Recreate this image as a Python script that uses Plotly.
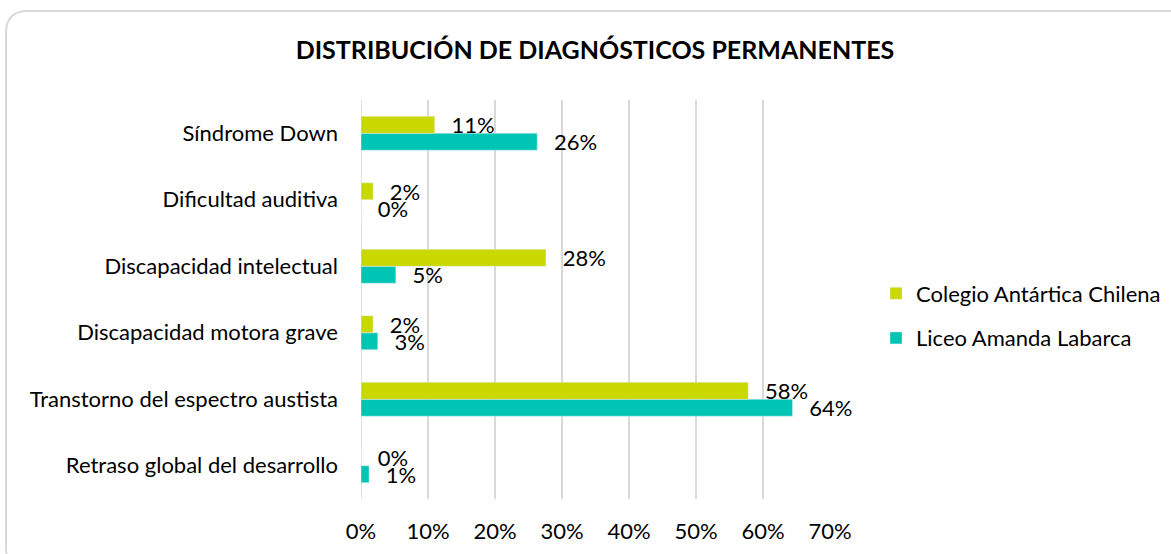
import plotly.graph_objects as go

# Categories listed bottom-to-top as they appear on the y axis
categorias = [
    "Retraso global del desarrollo",
    "Transtorno del espectro austista",
    "Discapacidad motora grave",
    "Discapacidad intelectual",
    "Dificultad auditiva",
    "Síndrome Down",
]
colegio_antartica = [0.0, 0.578, 0.018, 0.276, 0.018, 0.110]
liceo_amanda = [0.012, 0.644, 0.025, 0.052, 0.0, 0.263]
x_ticks = [0, 0.1, 0.2, 0.3, 0.4, 0.5, 0.6, 0.7]

FONT = "Lato"
FS = 22
W, H = 1171, 554
ML, MR, MT, MB = 361, 341, 100, 55

# label prefix: small gap between bar end and value text
GAP = "\u2002\u2009"

fig = go.Figure()
fig.add_trace(go.Bar(
    y=categorias, x=liceo_amanda, orientation="h",
    name="Liceo Amanda Labarca", marker_color="#00c4b4",
    legendgroup="b", legendrank=2,
    texttemplate=GAP + "%{x:.0%}", textposition="outside",
    constraintext="none", cliponaxis=False,
    textfont=dict(family=FONT, size=FS, color="#000000"),
))
fig.add_trace(go.Bar(
    y=categorias, x=colegio_antartica, orientation="h",
    name="Colegio Antártica Chilena", marker_color="#c8d800",
    legendgroup="a", legendrank=1,
    texttemplate=GAP + "%{x:.0%}", textposition="outside",
    constraintext="none", cliponaxis=False,
    textfont=dict(family=FONT, size=FS, color="#000000"),
))

pw = W - ML - MR
ph = H - MT - MB


def px(x):
    return (x - ML) / pw


def py(y):
    return (H - MB - y) / ph


# rounded outer frame, partly running past the right and bottom edges
x0, y0, x1, y1, r = 6, 11, 1190, 570, 22
path = (
    f"M {px(x0 + r)},{py(y0)} L {px(x1 - r)},{py(y0)} "
    f"Q {px(x1)},{py(y0)} {px(x1)},{py(y0 + r)} "
    f"L {px(x1)},{py(y1 - r)} Q {px(x1)},{py(y1)} {px(x1 - r)},{py(y1)} "
    f"L {px(x0 + r)},{py(y1)} Q {px(x0)},{py(y1)} {px(x0)},{py(y1 - r)} "
    f"L {px(x0)},{py(y0 + r)} Q {px(x0)},{py(y0)} {px(x0 + r)},{py(y0)} Z"
)

fig.update_layout(
    width=W, height=H,
    margin=dict(l=ML, r=MR, t=MT, b=MB, autoexpand=False),
    paper_bgcolor="white", plot_bgcolor="white",
    barmode="group", bargap=0.49, bargroupgap=0,
    font=dict(family=FONT, size=FS, color="#000000"),
    title=dict(
        text="<b>DISTRIBUCIÓN DE DIAGNÓSTICOS PERMANENTES</b>",
        x=595 / W, xanchor="center", y=1 - 50 / H, yanchor="middle",
        font=dict(family=FONT, size=25, color="#000000"),
    ),
    xaxis=dict(
        range=[0, 0.7], tickvals=x_ticks, tickformat=".0%",
        showgrid=True, gridcolor="#d9d9d9", gridwidth=1.5,
        zeroline=False, showline=False, ticks="",
        ticklabelstandoff=17,
        tickfont=dict(family=FONT, size=FS),
    ),
    yaxis=dict(
        showgrid=False, zeroline=False, showline=False, ticks="",
        ticklabelstandoff=22,
        tickfont=dict(family=FONT, size=FS),
    ),
    legend=dict(
        x=px(876), xanchor="left", y=py(316), yanchor="middle",
        traceorder="grouped", tracegroupgap=13,
        font=dict(family=FONT, size=FS),
        itemwidth=30,
    ),
    shapes=[
        dict(type="path", path=path, xref="paper", yref="paper",
             line=dict(color="#d9d9d9", width=2), layer="below"),
        dict(type="line", xref="x", yref="paper", x0=0, x1=0, y0=0, y1=1,
             line=dict(color="#d9d9d9", width=1.5), layer="below"),
    ],
)

fig.write_html("out.html")
